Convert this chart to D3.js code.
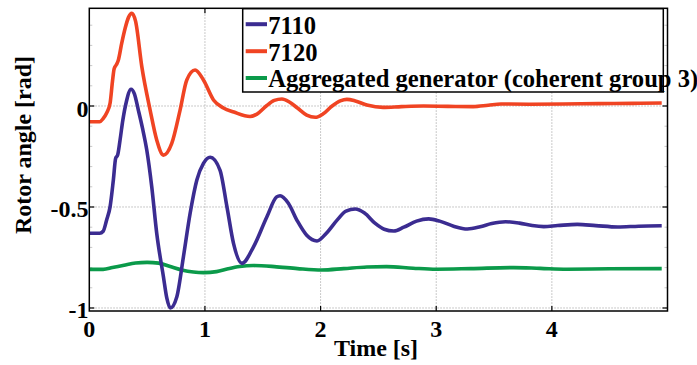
<!DOCTYPE html>
<html>
<head>
<meta charset="utf-8">
<script src="https://cdn.jsdelivr.net/npm/d3@7"></script>
<style>
  html, body { margin: 0; padding: 0; background: #fff; }
  svg { display: block; }
  text { font-family: "Liberation Serif", "Times New Roman", serif; font-weight: bold; fill: #000; }
</style>
</head>
<body>
<svg id="chart" width="697" height="365"></svg>
<script>
// Rotor angle responses [rad] vs time [s]
const seriesNames = ["7110", "7120", "Aggregated generator (coherent group 3)"];
const seriesColors = ["#3b2c91", "#f04423", "#0b9a4a"];

const gen7110 = [
  [0, -0.630], [0.09, -0.630], [0.12, -0.620], [0.15, -0.564], [0.18, -0.498],
  [0.208, -0.366], [0.228, -0.259], [0.245, -0.243], [0.266, -0.168], [0.29, -0.07],
  [0.32, 0.02], [0.361, 0.083], [0.39, 0.06], [0.424, -0.02], [0.46, -0.11],
  [0.497, -0.218], [0.54, -0.40], [0.583, -0.63], [0.641, -0.845], [0.67, -0.95],
  [0.70, -1.0], [0.757, -0.944], [0.814, -0.746], [0.872, -0.531], [0.93, -0.366],
  [0.987, -0.284], [1.045, -0.254], [1.13, -0.317], [1.19, -0.498], [1.247, -0.68],
  [1.32, -0.779], [1.42, -0.697], [1.536, -0.548], [1.62, -0.45], [1.65, -0.444],
  [1.72, -0.48], [1.80, -0.57], [1.88, -0.64], [1.969, -0.668], [2.05, -0.63],
  [2.15, -0.56], [2.22, -0.52], [2.30, -0.51], [2.38, -0.53], [2.47, -0.58],
  [2.55, -0.61], [2.633, -0.619], [2.72, -0.60], [2.83, -0.57], [2.935, -0.559],
  [3.03, -0.57], [3.15, -0.595], [3.27, -0.609], [3.38, -0.598], [3.48, -0.582],
  [3.60, -0.573], [3.72, -0.58], [3.83, -0.592], [3.93, -0.597], [4.05, -0.592],
  [4.22, -0.586], [4.38, -0.592], [4.57, -0.599], [4.75, -0.595], [4.95, -0.593]
];

const gen7120 = [
  [0, -0.078], [0.09, -0.078], [0.12, -0.062], [0.15, -0.035], [0.18, 0.015],
  [0.20, 0.12], [0.215, 0.185], [0.235, 0.205], [0.25, 0.225], [0.28, 0.31],
  [0.31, 0.385], [0.34, 0.44], [0.367, 0.459], [0.40, 0.42], [0.454, 0.195],
  [0.526, -0.02], [0.583, -0.168], [0.641, -0.243], [0.713, -0.185], [0.785, -0.02],
  [0.843, 0.129], [0.915, 0.178], [0.987, 0.129], [1.074, 0.03], [1.16, -0.01],
  [1.25, -0.03], [1.39, -0.052], [1.45, -0.04], [1.53, 0.0], [1.60, 0.028],
  [1.666, 0.035], [1.73, 0.02], [1.80, -0.01], [1.88, -0.045], [1.954, -0.056],
  [2.02, -0.04], [2.10, 0.0], [2.17, 0.025], [2.228, 0.033], [2.30, 0.025],
  [2.40, 0.005], [2.54, -0.007], [2.70, -0.003], [2.89, 0.0], [3.10, -0.002],
  [3.32, -0.003], [3.45, 0.004], [3.56, 0.01], [3.80, 0.009], [4.10, 0.01],
  [4.40, 0.012], [4.70, 0.013], [4.95, 0.015]
];

const aggregated = [
  [0, -0.809], [0.12, -0.809], [0.2, -0.800], [0.3, -0.788], [0.4, -0.777],
  [0.5, -0.774], [0.6, -0.778], [0.7, -0.795], [0.8, -0.812], [0.9, -0.822],
  [0.99, -0.825], [1.1, -0.820], [1.2, -0.806], [1.3, -0.795], [1.42, -0.790],
  [1.6, -0.795], [1.8, -0.805], [2.01, -0.812], [2.2, -0.805], [2.4, -0.797],
  [2.57, -0.795], [2.8, -0.803], [3.0, -0.808], [3.3, -0.805], [3.67, -0.800],
  [3.9, -0.804], [4.13, -0.808], [4.5, -0.806], [4.95, -0.805]
];

const xTicks = [0, 1, 2, 3, 4];
const yTicks = [0, -0.5, -1];
const yTickLabels = ["0", "-0.5", "-1"];
const yMinorTicks = [-0.1, -0.2, -0.3, -0.4, -0.6, -0.7, -0.8, -0.9, 0.1, 0.2, 0.3, 0.4];

const svg = d3.select("#chart");
const plot = { left: 89.3, right: 667.5, top: 8.3, bottom: 311 };

const x = d3.scaleLinear().domain([0, 5]).range([plot.left, plot.right]);
const y = d3.scaleLinear().domain([-1.0149, 0.4837]).range([plot.bottom, plot.top]);

const fontSize = "24px";
const legendFontSize = "24.6px";

// grid
const grid = svg.append("g");
grid.selectAll("line.gx").data(xTicks.filter(d => d > 0)).join("line")
  .attr("x1", d => x(d)).attr("x2", d => x(d))
  .attr("y1", plot.top).attr("y2", plot.bottom)
  .attr("stroke", "#b8b8b8").attr("stroke-width", 1).attr("stroke-dasharray", "1.5,1.5");
grid.selectAll("line.gy").data(yTicks).join("line")
  .attr("x1", plot.left).attr("x2", plot.right)
  .attr("y1", d => y(d)).attr("y2", d => y(d))
  .attr("stroke", "#b8b8b8").attr("stroke-width", 1).attr("stroke-dasharray", "1.5,1.5");

// minor ticks on the vertical axes
const minor = svg.append("g");
minor.selectAll("line.ml").data(yMinorTicks).join("line")
  .attr("x1", plot.left).attr("x2", plot.left + 3)
  .attr("y1", d => y(d)).attr("y2", d => y(d))
  .attr("stroke", "#c8c8c8").attr("stroke-width", 1);
minor.selectAll("line.mr").data(yMinorTicks).join("line")
  .attr("x1", plot.right).attr("x2", plot.right - 3)
  .attr("y1", d => y(d)).attr("y2", d => y(d))
  .attr("stroke", "#c8c8c8").attr("stroke-width", 1);

// curves
const line = d3.line().x(d => x(d[0])).y(d => y(d[1])).curve(d3.curveMonotoneX);
const seriesData = [gen7110, gen7120, aggregated];
const drawOrder = [2, 1, 0];
svg.append("g").selectAll("path").data(drawOrder).join("path")
  .attr("d", i => line(seriesData[i]))
  .attr("fill", "none")
  .attr("stroke", i => seriesColors[i])
  .attr("stroke-width", 3.6)
  .attr("stroke-linejoin", "round")
  .attr("stroke-linecap", "butt");

// frame and major ticks
const frame = svg.append("g");
frame.append("rect")
  .attr("x", plot.left).attr("y", plot.top)
  .attr("width", plot.right - plot.left).attr("height", plot.bottom - plot.top)
  .attr("fill", "none").attr("stroke", "#000").attr("stroke-width", 1.5);

const tickLen = 5;
frame.selectAll("line.xb").data(xTicks.filter(d => d > 0)).join("line")
  .attr("x1", d => x(d)).attr("x2", d => x(d))
  .attr("y1", plot.bottom).attr("y2", plot.bottom - tickLen)
  .attr("stroke", "#000").attr("stroke-width", 1.2);
frame.selectAll("line.xt").data(xTicks.filter(d => d > 0)).join("line")
  .attr("x1", d => x(d)).attr("x2", d => x(d))
  .attr("y1", plot.top).attr("y2", plot.top + tickLen)
  .attr("stroke", "#000").attr("stroke-width", 1.2);
frame.selectAll("line.yl").data(yTicks).join("line")
  .attr("x1", plot.left).attr("x2", plot.left + tickLen)
  .attr("y1", d => y(d)).attr("y2", d => y(d))
  .attr("stroke", "#000").attr("stroke-width", 1.2);
frame.selectAll("line.yr").data(yTicks).join("line")
  .attr("x1", plot.right).attr("x2", plot.right - tickLen)
  .attr("y1", d => y(d)).attr("y2", d => y(d))
  .attr("stroke", "#000").attr("stroke-width", 1.2);

// tick labels
svg.append("g").selectAll("text").data(xTicks).join("text")
  .attr("x", d => x(d)).attr("y", 336.5)
  .attr("text-anchor", "middle").style("font-size", fontSize)
  .text(d => d);
svg.append("g").selectAll("text").data(yTicks).join("text")
  .attr("x", 88.5).attr("y", d => y(d) + 10.5)
  .attr("text-anchor", "end").style("font-size", fontSize)
  .text((d, i) => yTickLabels[i]);

// axis titles
svg.append("text")
  .attr("x", 376).attr("y", 355.5)
  .attr("text-anchor", "middle").style("font-size", fontSize)
  .text("Time [s]");
svg.append("text")
  .attr("transform", "translate(31,145) rotate(-90)")
  .attr("text-anchor", "middle").style("font-size", fontSize)
  .text("Rotor angle [rad]");

// legend
const legend = svg.append("g");
legend.append("rect")
  .attr("x", 242.7).attr("y", 8.7).attr("width", 420.6).attr("height", 83.3)
  .attr("fill", "#fff").attr("stroke", "#000").attr("stroke-width", 1.5);
const rowY = [33.5, 60.5, 87.3];
legend.selectAll("line").data(seriesNames).join("line")
  .attr("x1", 245.7).attr("x2", 267)
  .attr("y1", (d, i) => rowY[i] - 9.3).attr("y2", (d, i) => rowY[i] - 9.3)
  .attr("stroke", (d, i) => seriesColors[i]).attr("stroke-width", 4);
legend.selectAll("text").data(seriesNames).join("text")
  .attr("x", 268.3).attr("y", (d, i) => rowY[i])
  .style("font-size", legendFontSize)
  .text(d => d);
</script>
</body>
</html>
